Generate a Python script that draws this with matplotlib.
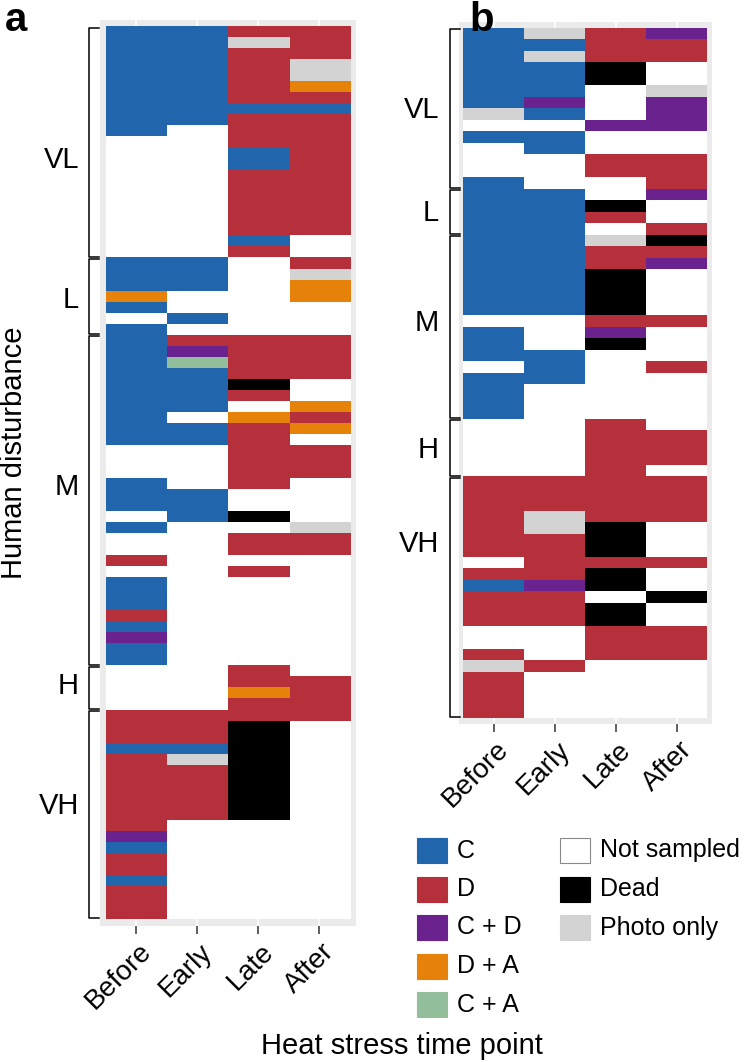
import numpy as np
import matplotlib
matplotlib.use("Agg")
import matplotlib.pyplot as plt
import matplotlib.transforms as mtransforms
from matplotlib.colors import ListedColormap, BoundaryNorm
from matplotlib.patches import Rectangle

plt.rcParams['font.family'] = ['Liberation Sans', 'DejaVu Sans']

timepoints = ["Before", "Early", "Late", "After"]
disturbance = ["VL", "L", "M", "H", "VH"]

# one letter per time point (Before, Early, Late, After)
# C, D, P = C + D, O = D + A, G = C + A, . = not sampled, X = dead, Y = photo only
status_codes = ["C", "D", "P", "O", "G", ".", "X", "Y"]
status_names = ["C", "D", "C + D", "D + A", "C + A", "Not sampled", "Dead", "Photo only"]
status_colors = ["#2166AC", "#B5303A", "#6A238E", "#E6820A", "#92BE9C",
                 "#FFFFFF", "#000000", "#D3D3D3"]

# panel a
a_VL = ["CCDD", "CCYD", "CCDD", "CCDY", "CCDY", "CCDO", "CCDD", "CCCC", "CCDD", "C.DD",
        "..DD", "..CD", "..CD", "..DD", "..DD", "..DD", "..DD", "..DD", "..DD", "..C.",
        "..D."]
a_L = ["CC.D", "CC.Y", "CC.O", "O..O", "C...", ".C..", "C..."]
a_M = ["CDDD", "CPDD", "CGDD", "CCDD", "CCX.", "CCD.", "CC.O", "C.OD", "CCDO", "CCD.",
       "..DD", "..DD", "..DD", "C.D.", "CC..", "CC..", ".CX.", "C..Y", "..DD", "..DD",
       "D...", "..D.", "C...", "C...", "C...", "D...", "C...", "P...", "C...", "C..."]
a_H = ["..D.", "..DD", "..OD", "..DD"]
a_VH = ["DDDD", "DDX.", "DDX.", "CCX.", "DYX.", "DDX.", "DDX.", "DDX.", "DDX.", "DDX.",
        "D...", "P...", "C...", "D...", "D...", "C...", "D...", "D...", "D..."]

# panel b
b_VL = ["CYDP", "CCDD", "CYDD", "CCX.", "CCX.", "CC.Y", "CP.P", "YC.P", "..PP", "CC..",
        ".C..", "..DD", "..DD", "C..D"]
b_L = ["CC.P", "CCX.", "CCD.", "CC.D"]
b_M = ["CCYX", "CCDD", "CCDP", "CCX.", "CCX.", "CCX.", "CCX.", "..DD", "C.P.", "C.X.",
       "CC..", ".C.D", "CC..", "C...", "C...", "C..."]
b_H = ["..D.", "..DD", "..DD", "..DD", "..D."]
b_VH = ["DDDD", "DDDD", "DDDD", "DYDD", "DYX.", "DDX.", "DDX.", ".DDD", "DDX.", "CPX.",
        "DD.X", "DDX.", "DDX.", "..DD", "..DD", "D.DD", "YD..", "D...", "D...", "D...",
        "D..."]

W, H = 745, 1062
fig = plt.figure(figsize=(W / 100, H / 100), dpi=100)

cmap = ListedColormap(status_colors)
norm = BoundaryNorm(np.arange(len(status_codes) + 1) - 0.5, len(status_codes))


def px_axes(x0, y0, x1, y1):
    return fig.add_axes([x0 / W, 1 - y1 / H, (x1 - x0) / W, (y1 - y0) / H])


# pixel-coordinate layer on top for brackets, titles and legend
overlay = px_axes(0, 0, W, H)
overlay.set_xlim(0, W)
overlay.set_ylim(H, 0)
overlay.axis("off")
overlay.set_zorder(10)


def draw_panel(groups, box, pad, label_rows, label_x, bracket_x, tag, tag_x):
    rows = [r for g in groups for r in g]
    n = len(rows)
    codes = np.array([[status_codes.index(ch) for ch in r] for r in rows])
    x0, y0, x1, y1 = box
    cw = (x1 - x0) / 4
    rh = (y1 - y0) / n
    ax = px_axes(x0 - pad[0], y0 - pad[1], x1 + pad[0], y1 + pad[1])
    ax.set_facecolor("#EBEBEB")
    ax.imshow(codes, cmap=cmap, norm=norm, aspect="auto", interpolation="nearest",
              extent=(-0.5, 3.5, n - 0.5, -0.5), zorder=2)
    ax.set_xlim(-0.5 - pad[0] / cw, 3.5 + pad[0] / cw)
    ax.set_ylim(n - 0.5 + pad[1] / rh, -0.5 - pad[1] / rh)
    ax.set_xticks(range(4))
    ax.set_xticklabels(timepoints)
    ax.set_yticks([])
    ax.grid(axis="x", color="white", lw=1.2, zorder=0)
    ax.set_axisbelow(True)
    for s in ax.spines.values():
        s.set_visible(False)
    ax.tick_params(axis="x", length=6, width=1.1, color="#333333", labelsize=20, pad=3)
    shift = mtransforms.ScaledTranslation(2 / 100, 0, fig.dpi_scale_trans)
    for lab in ax.get_xticklabels():
        lab.set_rotation(45)
        lab.set_ha("right")
        lab.set_va("top")
        lab.set_rotation_mode("anchor")
        lab.set_transform(lab.get_transform() + shift)

    # brackets and group labels
    trans = mtransforms.blended_transform_factory(overlay.transData, ax.transData)
    start = 0
    for g, name, ly in zip(groups, disturbance, label_rows):
        top = start - 0.5 + 0.08
        bot = start + len(g) - 0.5 - 0.08
        overlay.plot([bracket_x + 10, bracket_x, bracket_x, bracket_x + 10],
                     [top, top, bot, bot], color="black", lw=1.1, transform=trans,
                     clip_on=False, solid_joinstyle="round")
        overlay.text(label_x, ly, name, ha="right", va="center", fontsize=21,
                     transform=trans)
        start += len(g)
    overlay.text(tag_x, 31, tag, fontsize=29, fontweight="bold", ha="left", va="baseline")
    return ax


draw_panel([a_VL, a_L, a_M, a_H, a_VH], (105.7, 27, 350, 919), (5.7, 7),
           [11.6, 24.3, 41.3, 59.35, 70.2], 79, 89, "a", 5)
draw_panel([b_VL, b_L, b_M, b_H, b_VH], (463.3, 28.3, 707.3, 718), (4.5, 6),
           [6.6, 15.56, 25.1, 36.2, 44.4], 439, 450, "b", 469)

overlay.text(402, 1054, "Heat stress time point", ha="center", va="baseline", fontsize=21)
overlay.text(14, 453, "Human disturbance", ha="center", va="center", rotation=90, fontsize=21)

# legend
left_items = [0, 1, 2, 3, 4]
right_items = [5, 6, 7]
for items, sx, tx in [(left_items, 417, 457), (right_items, 560, 600)]:
    for i, k in enumerate(items):
        top = 838 + 38.5 * i
        overlay.add_patch(Rectangle((sx, top), 30, 25, facecolor=status_colors[k],
                                    edgecolor="#888888" if k == 5 else status_colors[k],
                                    lw=0.8))
        overlay.text(tx, top + 12.5, status_names[k], ha="left", va="center", fontsize=18)

fig.savefig("out.png", dpi=100)
